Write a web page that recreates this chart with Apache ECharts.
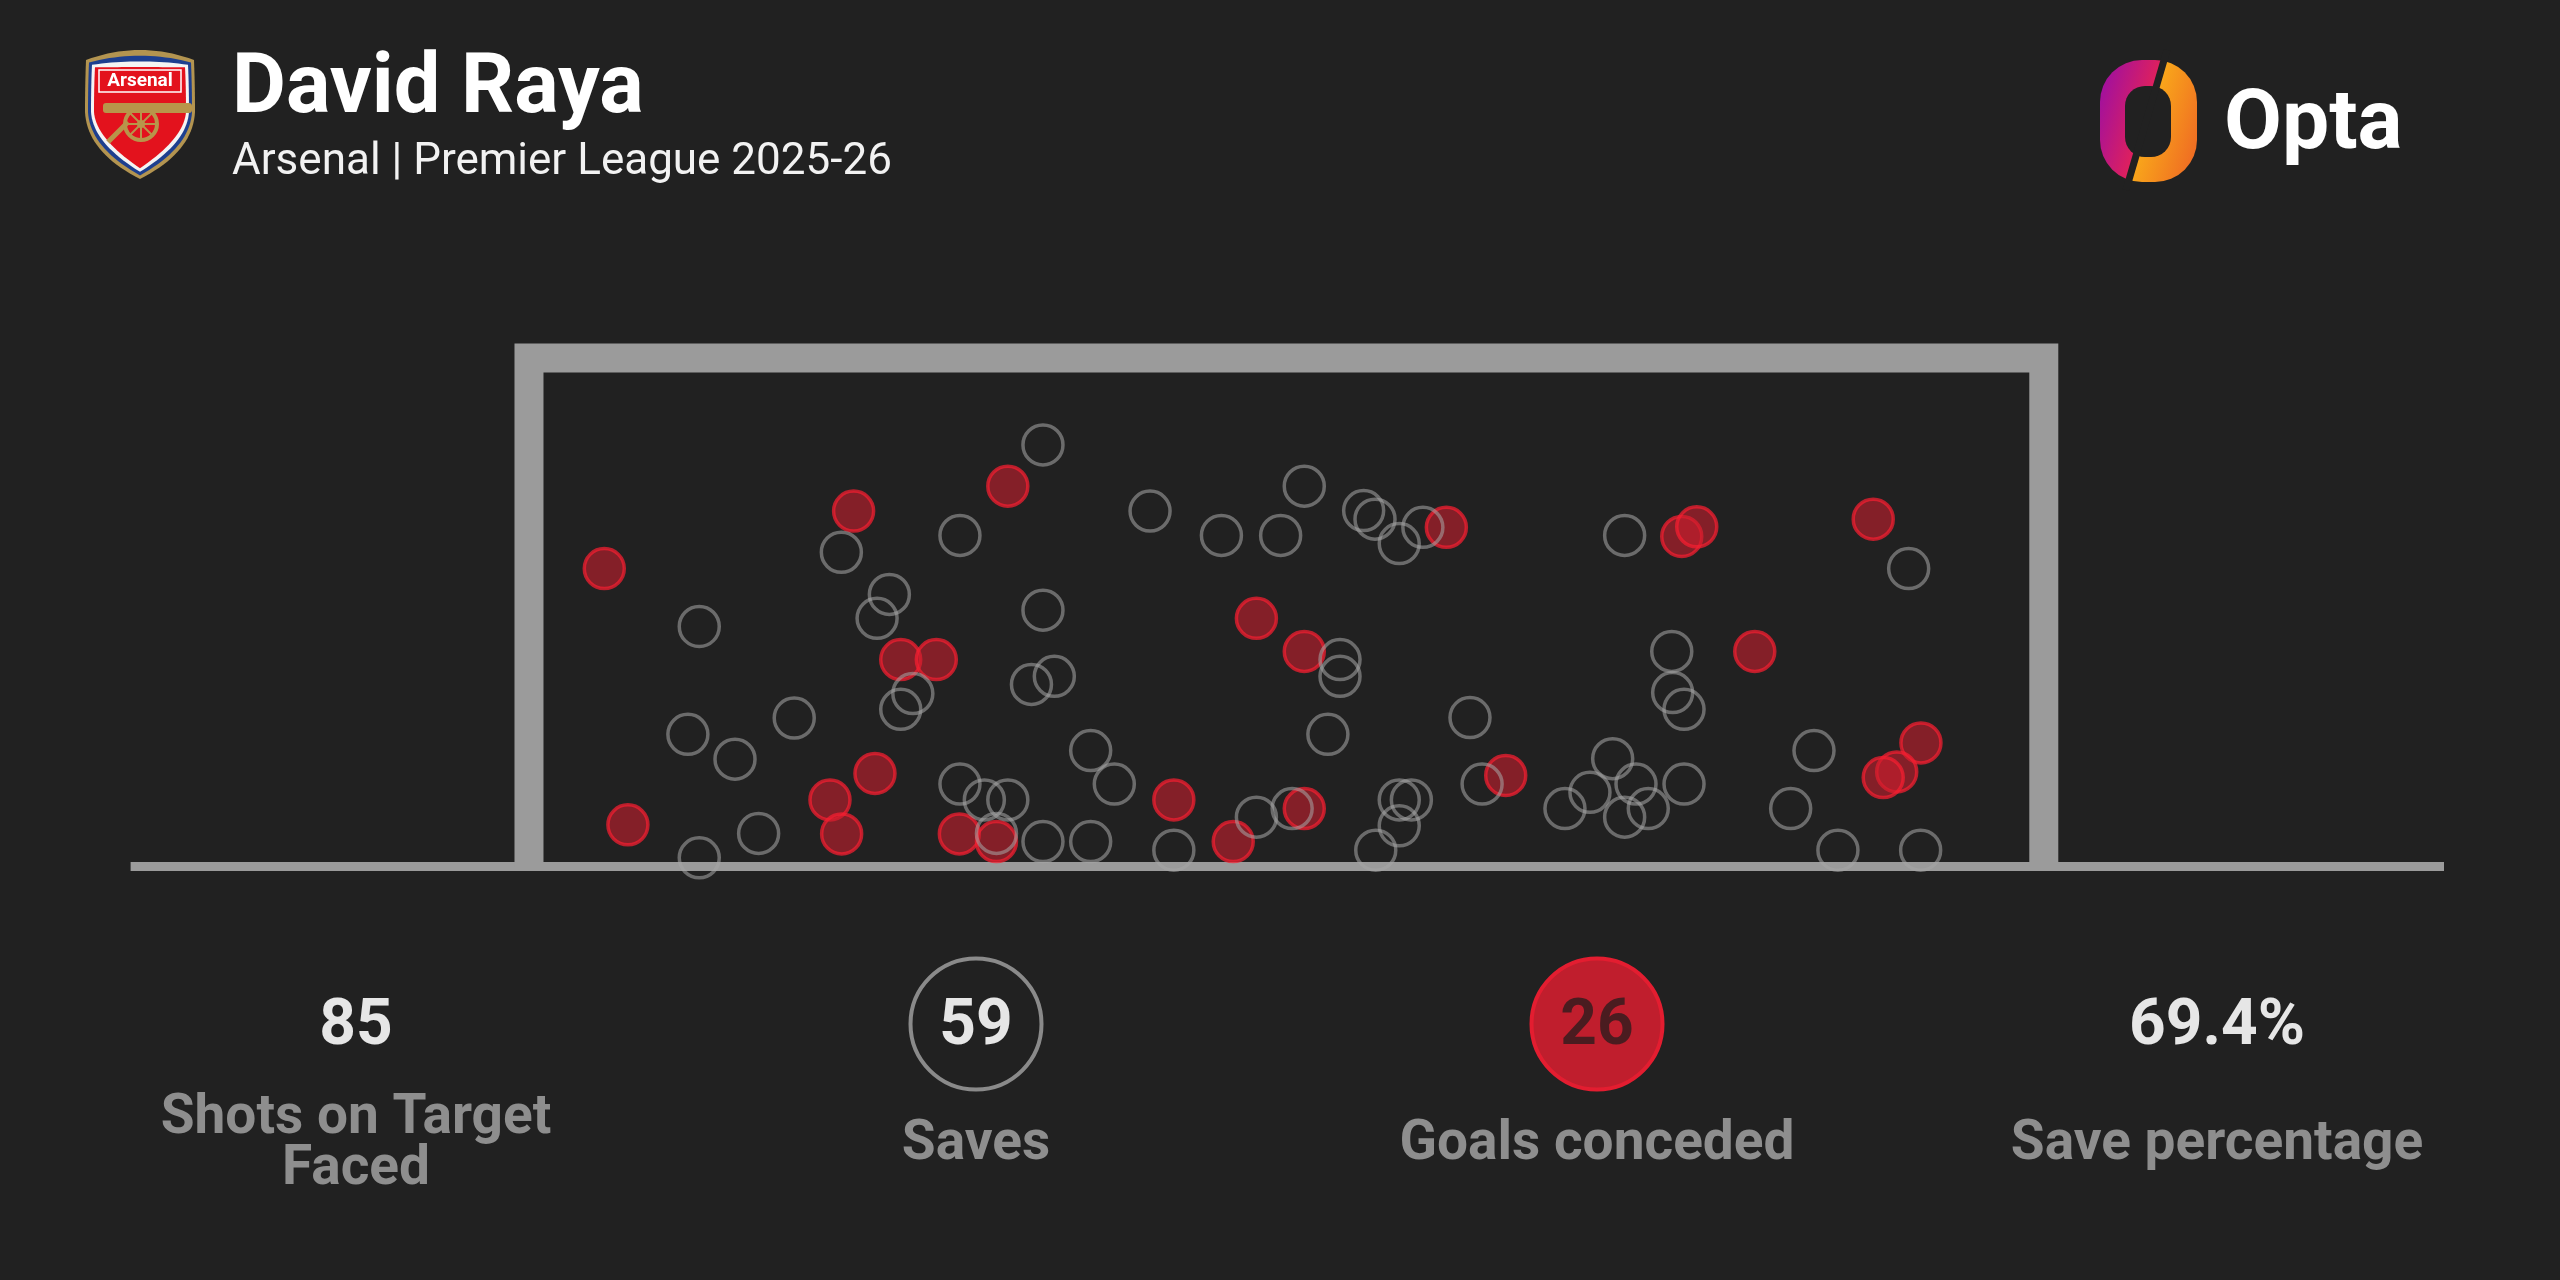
<!DOCTYPE html>
<html><head><meta charset="utf-8">
<script src="https://cdn.jsdelivr.net/npm/echarts@6/dist/echarts.min.js"></script>
<style>html,body{margin:0;padding:0;background:#212121;}#c{width:2560px;height:1280px;}</style>
</head><body><div id="c"></div>
<script>
// ---- DATA ----
const playerName = 'David Raya';
const subtitleText = 'Arsenal | Premier League 2025-26';
const brandText = 'Opta';
const crestText = 'Arsenal';
// shot end locations in goal mouth: x = % of goal width (post to post), y = % of goal height (ground to bar)
const goalsConceded = [
  [4.97,58.6],[21.43,69.9],[31.61,74.8],[24.54,40.7],[26.89,40.7],[22.84,18.3],[19.87,13.1],[20.64,6.4],
  [6.53,8.2],[28.41,6.4],[30.86,4.9],[48.02,48.8],[51.18,42.3],[60.56,66.7],[42.57,13.1],[46.49,4.9],
  [51.18,11.4],[64.48,17.9],[88.74,68.3],[76.10,64.9],[77.09,66.8],[80.92,42.3],[91.89,24.3],[90.29,18.6],[89.40,17.5]
];
const saves = [
  [11.24,47.2],[20.62,61.8],[28.45,65.1],[33.93,82.9],[23.79,53.5],[22.98,48.8],[33.93,50.4],[25.34,34.0],
  [24.54,30.9],[33.17,35.8],[34.68,37.4],[10.49,26.0],[13.60,21.1],[17.51,29.2],[15.16,6.5],[11.24,1.7],
  [28.45,16.2],[30.06,13.1],[31.61,13.1],[30.86,6.5],[33.93,4.9],
  [41.00,69.9],[45.71,65.1],[49.62,65.1],[51.18,74.8],[55.10,70.0],[55.85,68.3],[57.45,63.5],[59.01,66.7],
  [53.54,40.7],[53.54,37.4],[52.74,26.0],[62.12,29.3],[37.08,22.8],[38.64,16.2],[37.08,4.9],[42.57,3.2],
  [48.02,9.7],[50.38,11.4],[57.45,13.1],[58.25,13.1],[57.45,8.0],[55.90,3.2],[62.92,16.2],[68.39,11.4],
  [72.33,65.1],[91.08,58.6],[75.44,42.3],[75.50,34.2],[76.25,30.9],[71.54,21.2],[70.04,14.6],[73.08,16.2],
  [72.33,9.7],[73.89,11.4],[76.25,16.2],[84.83,22.8],[83.29,11.4],[86.41,3.2],[91.87,3.2]
];
const goalFrame = [[0,0],[0,100],[100,100],[100,0]];
const groundLine = [[-26.3,0],[126.42,0]];
const statValues = ['85','59','26','69.4%'];
const statLabels = ['Shots on Target\nFaced','Saves','Goals conceded','Save percentage'];

// ---- LAYOUT / STYLE ----
const BG = '#212121';
const statX = [356, 976, 1597, 2217];
const valueY = 1028, labelY = 1145;
const FONT = 'Roboto, "Noto Sans", sans-serif';

const chart = echarts.init(document.getElementById('c'), null, {renderer:'canvas'});

function txt(text, x, y, font, fill, align, lineHeight) {
  const st = {text:text, font:font, fill:fill, align:align||'left', verticalAlign:'middle',
              textAlign:align||'left', textVerticalAlign:'middle'};
  if (lineHeight) st.lineHeight = lineHeight;
  return {type:'text', x:x, y:y, silent:true, style:st};
}
// shield outline -> polygon points (top arc, straight sides, curved taper to point)
function shield(inset) {
  const i = inset;
  const segs = [
    [[86+i,60+i*0.8],[140,40+i*3],[194-i,60+i*0.8]],
    [[194-i,60+i*0.8],[195-i,86],[195-i,112]],
    [[195-i,112],[193-i,152-i*1.5],[140,179-i*1.2]],
    [[140,179-i*1.2],[87+i,152-i*1.5],[85+i,112]],
    [[85+i,112],[85+i,86],[86+i,60+i*0.8]]
  ];
  const pts = [];
  segs.forEach(function(s){
    for (let k=0;k<20;k++){ const t=k/20, u=1-t;
      pts.push([u*u*s[0][0]+2*u*t*s[1][0]+t*t*s[2][0], u*u*s[0][1]+2*u*t*s[1][1]+t*t*s[2][1]]); }
  });
  return pts;
}

const graphics = [];
// Arsenal crest (simplified)
[[0,'#b39450'],[3,'#1d3f8f'],[6,'#f4f4f4'],[9,'#e3121d']].forEach(function(l){
  graphics.push({type:'polygon', shape:{points:shield(l[0])}, style:{fill:l[1]}});
});
graphics.push({type:'rect', shape:{x:99,y:70,width:82,height:22}, style:{fill:'none', stroke:'#ffffff', lineWidth:1.5}});
graphics.push(txt(crestText, 140, 81, 'bold 19px "Liberation Sans Narrow", Roboto, sans-serif', '#ffffff', 'center'));
graphics.push({type:'rect', shape:{x:103,y:103,width:89,height:10,r:3}, style:{fill:'#b8954a'}});
graphics.push({type:'line', shape:{x1:128,y1:122,x2:108,y2:142}, style:{stroke:'#b8954a', lineWidth:5}});
graphics.push({type:'circle', shape:{cx:141,cy:124,r:16}, style:{fill:'none', stroke:'#b8954a', lineWidth:4}});
[[141,108,141,140],[125,124,157,124],[130,113,152,135],[152,113,130,135]].forEach(function(s){
  graphics.push({type:'line', shape:{x1:s[0],y1:s[1],x2:s[2],y2:s[3]}, style:{stroke:'#b8954a', lineWidth:2}});
});
graphics.push({type:'circle', shape:{cx:141,cy:124,r:4}, style:{fill:'#b8954a'}});

// Title
graphics.push(txt(playerName, 232, 91, 'bold 83px ' + FONT, '#ffffff', 'left'));
graphics.push(txt(subtitleText, 232, 163, '400 44px ' + FONT, '#f2f2f2', 'left'));

// Opta logo
graphics.push({type:'rect', shape:{x:2100,y:60,width:97,height:122,r:42},
  style:{fill:{type:'linear', x:2090, y:110, x2:2207, y2:145, global:true, colorStops:[
    {offset:0,color:'#9c0fa3'},{offset:0.469,color:'#e2215a'},
    {offset:0.469,color:'#f9a81a'},{offset:1,color:'#ee6424'}]}}});
graphics.push({type:'rect', shape:{x:2125,y:86,width:46,height:71,r:20}, style:{fill:BG}});
graphics.push({type:'line', shape:{x1:2167,y1:50,x2:2126,y2:190}, style:{stroke:BG, lineWidth:7}});
graphics.push(txt(brandText, 2224, 127, 'bold 84px ' + FONT, '#ffffff', 'left'));

// Stats row
graphics.push({type:'circle', shape:{cx:statX[1],cy:1024,r:65.5}, style:{fill:'none', stroke:'#8a8a8a', lineWidth:4}});
graphics.push({type:'circle', shape:{cx:statX[2],cy:1024,r:65.5}, style:{fill:'#c01e2d', stroke:'#e31d30', lineWidth:4}});
statValues.forEach(function(v,i){
  graphics.push(txt(v, statX[i], valueY, 'bold 64px ' + FONT, i===2 ? '#4a1c20' : '#e6e6e6', 'center'));
  graphics.push(txt(statLabels[i], statX[i], labelY, 'bold 55px ' + FONT, '#8e8e8e', 'center', 51));
});

const option = {
  backgroundColor: BG,
  animation: false,
  grid: {left:130.6, right:116, top:358, bottom:413.5, containLabel:false, outerBoundsMode:'none'},
  xAxis: {type:'value', min:-26.3, max:126.42, show:false},
  yAxis: {type:'value', min:0, max:100, show:false},
  graphic: {elements: graphics},
  series: [
    {type:'line', data:groundLine, showSymbol:false, clip:false, silent:true, z:1,
     lineStyle:{color:'#9b9b9b', width:9, cap:'butt'}},
    {type:'line', data:goalFrame, showSymbol:false, clip:false, silent:true, z:2,
     lineStyle:{color:'#9b9b9b', width:29, join:'miter', cap:'butt'}},
    {type:'scatter', name:'Goals conceded', data:goalsConceded, clip:false, z:3, symbol:'circle', symbolSize:40,
     itemStyle:{color:'rgba(205,30,45,0.72)', borderColor:'rgba(245,30,48,0.9)', borderWidth:3.5},
     emphasis:{disabled:true}},
    {type:'scatter', name:'Saves', data:saves, clip:false, z:4, symbol:'circle', symbolSize:40,
     itemStyle:{color:'rgba(0,0,0,0)', borderColor:'rgba(165,165,165,0.7)', borderWidth:3.5},
     emphasis:{disabled:true}}
  ]
};
chart.setOption(option);
</script>
</body></html>
